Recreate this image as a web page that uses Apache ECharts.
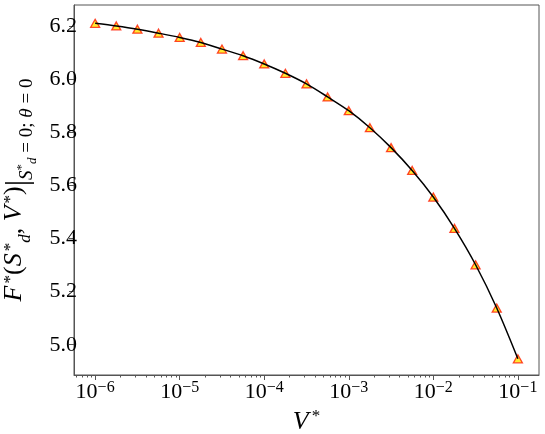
<!DOCTYPE html>
<html>
<head>
<meta charset="utf-8">
<script src="https://cdn.jsdelivr.net/npm/echarts@6/dist/echarts.min.js"></script>
<style>
html, body { margin: 0; padding: 0; background: #fff; }
#chart { width: 545px; height: 434px; }
</style>
</head>
<body>
<div id="chart"></div>
<script>
// V* (log spaced, 4 per decade) and F*
var vStar = [1e-6, 1.778e-6, 3.162e-6, 5.623e-6,
    1e-5, 1.778e-5, 3.162e-5, 5.623e-5,
    1e-4, 1.778e-4, 3.162e-4, 5.623e-4,
    1e-3, 1.778e-3, 3.162e-3, 5.623e-3,
    1e-2, 1.778e-2, 3.162e-2, 5.623e-2,
    1e-1];
var fStar = [6.210, 6.200, 6.188, 6.173,
    6.157, 6.138, 6.113, 6.088,
    6.057, 6.022, 5.982, 5.933,
    5.881, 5.817, 5.742, 5.656,
    5.556, 5.438, 5.301, 5.138,
    4.947];
// tick labels
var xTickExp = [-6, -5, -4, -3, -2, -1];
var yTicks = [5.0, 5.2, 5.4, 5.6, 5.8, 6.0, 6.2];
var minorMult = [2, 3, 4, 5, 6, 7, 8, 9];

var xMin = -6.25, xMax = -0.75;
var yMin = 4.886, yMax = 6.279;
var serif = 'Liberation Serif';

// minor tick positions of the log axis
var minorTicks = [];
for (var e = -7; e <= -1; e++) {
    minorMult.forEach(function (k) {
        var p = Math.log10(k) + e;
        if (p > xMin && p < xMax) minorTicks.push(p);
    });
}

var points = vStar.map(function (v, i) {
    return [Math.log10(v), fStar[i]];
});

function tok(size, pb, italic, pl) {
    return {
        fontFamily: serif, fontSize: size, lineHeight: size, color: '#000',
        fontStyle: italic ? 'italic' : 'normal',
        verticalAlign: 'bottom', padding: [0, 0, pb, pl || 0]
    };
}

var myChart = echarts.init(document.getElementById('chart'));

var option = {
    backgroundColor: '#fff',
    animation: false,
    grid: {
        left: 74, right: 6, top: 5, bottom: 59,
        outerBoundsMode: 'none',
        containLabel: false,
        show: true, borderColor: '#555', borderWidth: 1
    },
    xAxis: [{
        type: 'value', min: xMin, max: xMax, position: 'bottom',
        axisLine: { show: true, onZero: false, lineStyle: { color: '#555', width: 1 } },
        splitLine: { show: false },
        axisTick: { show: true, inside: false, length: 5, lineStyle: { color: '#555' }, customValues: xTickExp },
        axisLabel: {
            customValues: xTickExp, margin: 6,
            formatter: function (v) {
                return '{b|10}{s|\u2212' + Math.abs(Math.round(v)) + '}';
            },
            rich: { b: tok(22, 0), s: tok(16, 7) }
        },
        name: '{i|V}{s|*}',
        nameLocation: 'middle', nameGap: 24,
        nameTextStyle: { rich: { i: tok(26, 0, true), s: tok(17, 10, false, 3) } }
    }, {
        type: 'value', min: xMin, max: xMax, position: 'bottom',
        axisLine: { show: false, onZero: false },
        splitLine: { show: false },
        axisTick: { show: true, inside: false, length: 2.5, lineStyle: { color: '#555' }, customValues: minorTicks },
        axisLabel: { show: false }
    }],
    yAxis: {
        type: 'value', min: yMin, max: yMax,
        axisLine: { show: true, onZero: false, lineStyle: { color: '#555', width: 1 } },
        splitLine: { show: false },
        axisTick: { show: true, inside: false, length: 5, lineStyle: { color: '#555' }, customValues: yTicks },
        axisLabel: {
            customValues: yTicks, margin: -3,
            fontFamily: serif, fontSize: 22, color: '#000',
            formatter: function (v) { return v.toFixed(1); }
        },
        name: '{F|F}{Fs|*}{P|(}{F|S}{Fs|*}{Fd|d}{P|, }{F|V}{Fs|*}{P|)}{bar||}' +
            '{s|S}{ss|*}{sd|d}{sr| = 0; }{s|\u03b8}{sr| = 0}',
        nameLocation: 'middle', nameRotate: 90, nameGap: 14,
        nameTextStyle: {
            rich: {
                F: tok(26, 11, true),
                P: tok(26, 11),
                Fs: tok(17, 20, false, 2),
                Fd: tok(17, 5, true),
                bar: tok(32, 4),
                s: tok(19, 2, true),
                sr: tok(19, 2),
                ss: tok(13, 11),
                sd: tok(13, 0, true)
            }
        }
    },
    series: [{
        type: 'scatter',
        data: points,
        symbol: 'triangle',
        symbolSize: [9, 8],
        itemStyle: { color: '#ffe600', borderColor: '#ff1a00', borderWidth: 1.3 },
        z: 2
    }, {
        type: 'line',
        data: points,
        showSymbol: false,
        smooth: 0.3,
        lineStyle: { color: '#000', width: 1.5 },
        z: 3
    }]
};
myChart.setOption(option);
</script>
</body>
</html>
